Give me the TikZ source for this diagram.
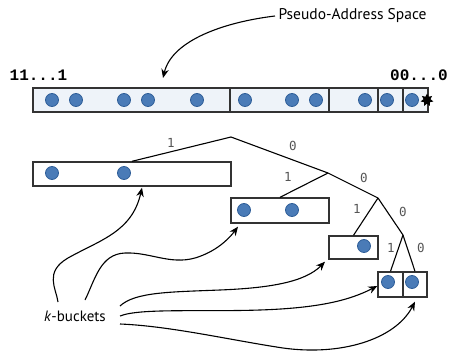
\documentclass[tikz,border=0pt]{standalone}
\usepackage{fontspec}
\setmainfont{PT Sans}
\setmonofont{Liberation Mono}
\newfontfamily\bitfont{DejaVu Sans Mono}
\usepackage{tikz}
\usetikzlibrary{arrows.meta,shapes.geometric}
\definecolor{dotblue}{HTML}{4A7BB7}
\definecolor{dotedge}{HTML}{2F5E98}
\definecolor{barfill}{HTML}{EEF3F9}
\definecolor{boxline}{HTML}{333333}
\definecolor{bitgray}{HTML}{555555}

\begin{document}
\begin{tikzpicture}[x=1pt, y=-1pt,
  dot/.style={fill=dotblue, draw=dotedge, line width=0.8pt},
  bucket/.style={draw=boxline, line width=1.4pt, inner sep=0pt},
  edge/.style={line width=1.1pt},
  bit/.style={text=bitgray, font=\bitfont\fontsize{12.5}{12.5}\selectfont},
  link/.style={line width=1.1pt, -{Stealth[length=9pt,width=7.5pt]}}]
\useasboundingbox (0,0) rectangle (450,353);
% address space bar
\draw[draw=boxline, line width=1.2pt, fill=barfill] (33,88) rectangle (428,112);
\draw[draw=boxline, line width=1.2pt] (230,88) -- (230,112);
\draw[draw=boxline, line width=1.2pt] (329,88) -- (329,112);
\draw[draw=boxline, line width=1.2pt] (378,88) -- (378,112);
\draw[draw=boxline, line width=1.2pt] (403,88) -- (403,112);
\filldraw[dot] (52,100) circle (6.5); \filldraw[dot] (76,100) circle (6.5);
\filldraw[dot] (124,100) circle (6.5); \filldraw[dot] (148,100) circle (6.5);
\filldraw[dot] (197,100) circle (6.5); \filldraw[dot] (245,100) circle (6.5);
\filldraw[dot] (292,100) circle (6.5); \filldraw[dot] (316,100) circle (6.5);
\filldraw[dot] (365,100) circle (6.5); \filldraw[dot] (387,100) circle (6.5);
\filldraw[dot] (412,100) circle (6.5);
\node[star, star points=7, star point ratio=1.8, fill=black, inner sep=0pt, minimum size=13pt] (me) at (427,100) {};
\node (hi) at (38.5,75) {\fontsize{16}{16}\selectfont\texttt{\bfseries 11...1}};
\node (lo) at (419,75) {\fontsize{16}{16}\selectfont\texttt{\bfseries 00...0}};
\node[anchor=west, font=\fontsize{15.5}{15.5}\selectfont] (space) at (275,16) {Pseudo-Address Space};
\draw[link] (space.west) .. controls (225,22) and (172,40) .. (163,78);
% buckets
\node[bucket, minimum width=198pt, minimum height=24pt] (b1) at (132,174) {};
\node[bucket, minimum width=98pt, minimum height=25pt] (b2) at (280,210.5) {};
\node[bucket, minimum width=49pt, minimum height=23pt] (b3) at (353.5,247.5) {};
\node[bucket, minimum width=25pt, minimum height=25pt] (b4) at (390.5,284.5) {};
\node[bucket, minimum width=24pt, minimum height=25pt] (b5) at (415,284.5) {};
\filldraw[dot] (52,173) circle (6.5); \filldraw[dot] (124,173) circle (6.5);
\filldraw[dot] (244,210) circle (6.5); \filldraw[dot] (292,210) circle (6.5);
\filldraw[dot] (364,246) circle (6.5);
\filldraw[dot] (388,282) circle (6.5); \filldraw[dot] (412,282) circle (6.5);
% tree
\coordinate (r) at (231,137);
\coordinate (n1) at (328,173);
\coordinate (n2) at (378,198);
\coordinate (n3) at (403,235);
\draw[edge] (b1.north) -- (r) -- (n1) -- (n2) -- (n3);
\draw[edge] (n1) -- (b2.north);
\draw[edge] (n2) -- (b3.north);
\draw[edge] (n3) -- (b4.north);
\draw[edge] (n3) -- (b5.north);
\node[bit] (e1) at (171,143) {1}; \node[bit] (e0) at (293,146) {0};
\node[bit] (f1) at (288,177) {1}; \node[bit] (f0) at (364,178) {0};
\node[bit] (g1) at (357,209) {1}; \node[bit] (g0) at (403,212) {0};
\node[bit] (h1) at (391,248) {1}; \node[bit] (h0) at (421,248) {0};
% k-buckets pointers
\node[font=\fontsize{15}{15}\selectfont] (kb) at (75,316) {\textit{k}-buckets};
\coordinate (ka) at (58,302);
\coordinate (kc) at (85,300);
\coordinate (kd) at (120,306);
\coordinate (ke) at (120,316);
\coordinate (kf) at (120,324);
\draw[link] (ka) .. controls (56,288) and (44,272) .. (68,258) .. controls (100,240) and (132,232) .. ([yshift=-1pt]b1.south -| 142,0);
\draw[link] (kc) .. controls (95,280) and (100,254) .. (125,253) .. controls (150,252) and (170,265) .. (195,258) .. controls (215,252) and (228,240) .. ([yshift=-3pt]b2.south -| 238,0);
\draw[link] (kd) .. controls (135,292) and (170,292) .. (220,290) .. controls (270,288) and (305,282) .. ([yshift=-2pt]b3.south -| 325,0);
\draw[link] (ke) .. controls (140,308) and (200,312) .. (260,310) .. controls (320,308) and (350,300) .. ([yshift=-2pt]b4.west |- 0,284);
\draw[link] (kf) .. controls (170,326) and (230,340) .. (283,348) .. controls (340,356) and (395,340) .. ([yshift=-4pt]b5.south);
\end{tikzpicture}
\end{document}
